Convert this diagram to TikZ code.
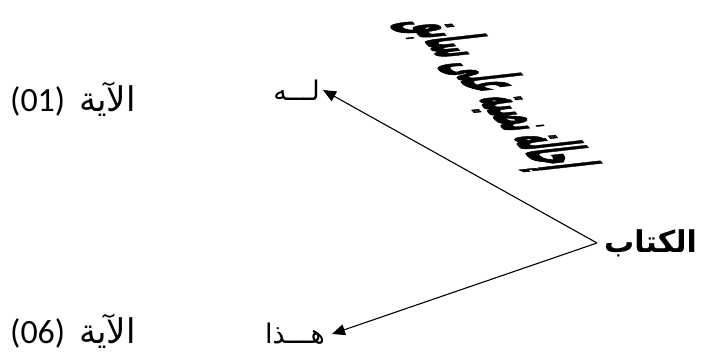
\documentclass[tikz,border=0pt]{standalone}
\usepackage{fontspec}
\setmainfont{Carlito}
\newfontfamily\arabicfont[Script=Arabic]{DejaVu Sans}
\newfontfamily\titlefont[Script=Arabic, UprightFont={* Bold}, FakeBold=2.5]{DejaVu Sans}
\TeXXeTstate=1
\usetikzlibrary{arrows.meta,positioning}

\begin{document}
\begin{tikzpicture}[x=1pt, y=-1pt, >={Triangle[length=13pt,width=11pt]},
  word/.style={inner sep=0pt, font=\arabicfont\fontsize{27}{30}\selectfont},
  ref/.style={inner sep=0pt, font=\fontsize{34}{36}\selectfont}]
\useasboundingbox (0,0) rectangle (701,353);
\node[ref, anchor=west] (ayaA) at (10,99) {(01)\hspace{14pt}{\arabicfont\fontsize{34}{36}\selectfont\beginR الآية\endR}};
\node[ref, anchor=west] (ayaB) at (10,331) {(06)\hspace{14pt}{\arabicfont\fontsize{34}{36}\selectfont\beginR الآية\endR}};
\node[word, anchor=east, inner sep=3pt] (lah) at (323,90) {\beginR لـــه\endR};
\node[word, anchor=east, inner sep=7pt] (hatha) at (332,334) {\beginR هـــذا\endR};
\node[word, anchor=west, inner sep=7pt, font=\arabicfont\bfseries\fontsize{30}{34}\selectfont] (ktab) at (597,243) {\beginR الكتاب\endR};
\draw[->, line width=1.1pt] (ktab.west) -- (lah.east);
\draw[->, line width=1.1pt] (ktab.west) -- (hatha.east);
\begin{scope}[shift={(495,94)}]
\node[cm={0.64,-0.71,4.0,0.45,(0,0)}, transform shape, inner sep=0pt, font=\titlefont\fontsize{20}{24}\selectfont] (title) at (0,0) {\beginR إحالة نصية على سابق\endR};
\end{scope}
\end{tikzpicture}
\end{document}
